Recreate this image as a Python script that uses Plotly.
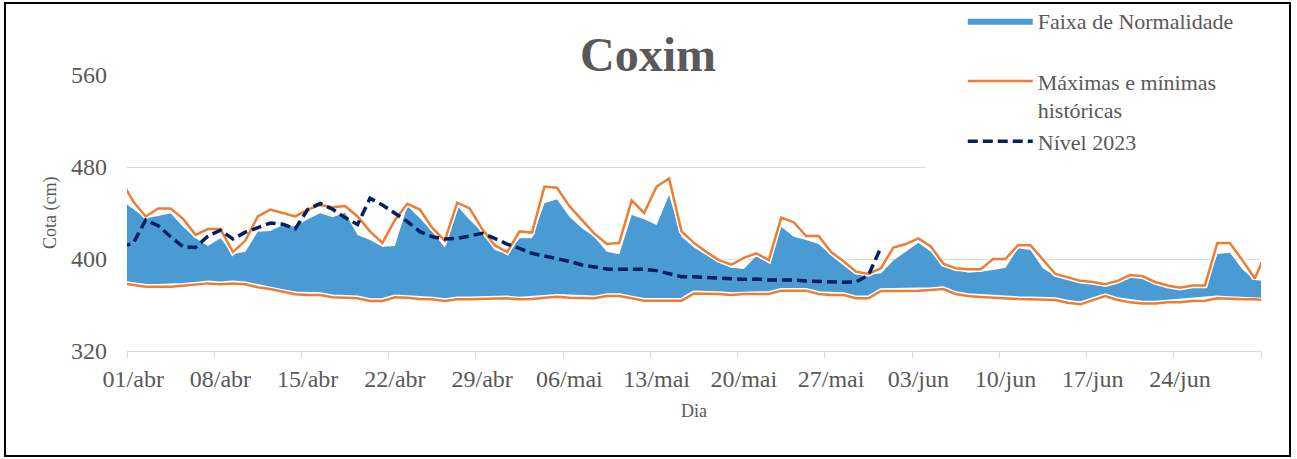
import plotly.graph_objects as go
import pandas as pd

# Days 31/mar .. 01/jul 2023 (first and last fall just outside the visible range)
dias = pd.date_range("2023-03-31", "2023-07-01", freq="D")

max_hist = [469, 450, 437, 444, 444, 435, 421, 426, 426, 406, 416, 437, 443, 440, 437, 443, 447, 445, 446, 437,
            424, 414, 434, 448, 443, 427, 416, 449, 444, 426, 412, 406, 424, 423, 463, 462, 446, 434, 422, 413,
            414, 451, 440, 463, 470, 424, 414, 406, 399, 395, 401, 405, 399, 436, 432, 420, 420, 406, 398, 389,
            387, 392, 410, 413, 418, 411, 396, 392, 391, 391, 400, 400, 412, 412, 399, 387, 384, 381, 380, 378,
            381, 386, 385, 380, 377, 375, 377, 377, 414, 414, 399, 383, 408]

min_hist = [379, 377.5, 375.9, 375.9, 375.9, 376.8, 377.7, 378.8, 378, 378.8, 378, 375.4, 373.9, 371.3, 369.3,
            368.7, 368.7, 366.7, 366.4, 365.8, 363.5, 363.5, 366.7, 366.4, 365.2, 364.9, 363.5, 364.9, 364.9,
            365.2, 365.8, 365.8, 364.9, 365.2, 366.4, 367.2, 366.4, 365.8, 365.8, 367.8, 367.8, 365.8, 363.8,
            363.8, 363.8, 363.8, 370.1, 370.1, 369.6, 368.7, 369.6, 369.6, 369.6, 372.5, 372.5, 372.5, 369.6,
            368.7, 368.7, 365.8, 365.8, 372.2, 372.2, 372.2, 372.5, 373, 373.9, 369.6, 367.8, 367, 366.4, 365.2,
            365.2, 364.9, 364.3, 364.3, 362, 360.6, 364.3, 367.8, 364.3, 362.3, 361.4, 361.4, 362.3, 362.3,
            363.5, 363.8, 365.8, 365.2, 364.9, 364.9, 363.7]

faixa_sup = [451.5, 443.5, 435.4, 437.4, 439.7, 428, 418, 411.3, 418, 404.3, 406.4, 423.8, 424.3, 429.6, 428,
             434.5, 439.7, 436.2, 440.3, 420.9, 416.5, 410.7, 411.3, 446, 435.4, 423.8, 410.1, 446, 433.9, 423.8,
             407.8, 404.3, 418, 418, 448.4, 451.9, 436.8, 426.7, 419.4, 406.4, 404.1, 438.3, 434.5, 429.6, 455.7,
             419.4, 410.1, 403.5, 397.1, 392.5, 391.3, 402.6, 396.8, 428.1, 419.4, 416.5, 413, 403.5, 396.2, 389,
             387, 387.5, 398.6, 406.4, 414.2, 406.4, 393.3, 391, 388.1, 389, 390.4, 392.5, 409.3, 407.8, 391.9,
             385.2, 382.3, 379.7, 378.3, 377.4, 380.3, 384.1, 383.2, 378.8, 376.5, 374.5, 375.4, 375.9, 404.3,
             405.5, 391, 381.7, 380.7]

faixa_inf = [380.5, 379, 377.3, 377.2, 377.2, 378, 379, 380, 379.3, 380, 379.2, 376.8, 375.2, 372.6, 370.6, 370,
             370, 368, 367.8, 367, 365, 365, 368, 367.7, 366.5, 366.2, 364.8, 366.2, 366.2, 366.5, 367, 367, 366.2,
             366.5, 367.7, 368.5, 367.7, 367, 367, 369, 369, 367, 365, 365, 365, 365.2, 371.3, 371.4, 370.8, 370,
             370.8, 370.8, 370.8, 373.7, 373.7, 373.7, 370.8, 370, 370, 367.5, 367.5, 373.4, 373.4, 373.4, 373.7,
             374.2, 375, 370.8, 369, 368.2, 367.6, 366.5, 366.5, 366.2, 365.5, 365.5, 364, 363, 365.5, 368.5,
             365.5, 363.6, 362.8, 362.8, 363.6, 363.6, 364.8, 365, 367, 366.5, 366.2, 366.2, 365]

nivel_2023 = [410.8, 413.6, 433.9, 429, 419.4, 410.7, 410.1, 420, 425, 417.4, 423.3, 427.5, 431.3, 430.3, 426.2,
              443, 448.4, 443.3, 436, 430, 452.8, 447, 440, 432.5, 423.8, 419.4, 417.4, 418, 420, 422.3, 418, 413,
              409.3, 404.9, 402.6, 400.6, 398, 394.8, 393.3, 391.3, 391, 391, 391, 389.9, 387.5, 384.6, 384.6,
              384.1, 382.9, 382.6, 382.3, 382.6, 381.7, 381.7, 381.7, 380.9, 380.3, 379.7, 379.7, 380, 386, 410]

tick_datas = pd.date_range("2023-04-01", periods=13, freq="7D")
tick_rotulos = ["01/abr", "08/abr", "15/abr", "22/abr", "29/abr", "06/mai", "13/mai",
                "20/mai", "27/mai", "03/jun", "10/jun", "17/jun", "24/jun"]
y_ticks = [320, 400, 480, 560]

FONT = "Liberation Serif, Times New Roman, serif"
GRAY = "#595959"
BLUE = "#4a9bd4"
ORANGE = "#ed7d31"
NAVY = "#002060"

fig = go.Figure()
fig.add_trace(go.Scatter(x=dias, y=faixa_inf, mode="lines", line=dict(width=0, color=BLUE),
                         showlegend=False, hoverinfo="skip"))
fig.add_trace(go.Scatter(x=dias, y=faixa_sup, mode="lines", line=dict(width=0, color=BLUE),
                         fill="tonexty", fillcolor=BLUE, name="Faixa de Normalidade<br> "))
for serie in (max_hist, min_hist):
    fig.add_trace(go.Scatter(x=dias, y=serie, mode="lines", line=dict(width=5.5, color="white"),
                             showlegend=False, hoverinfo="skip"))
fig.add_trace(go.Scatter(x=dias, y=max_hist, mode="lines", line=dict(width=2.5, color=ORANGE),
                         name="Máximas e mínimas<br>históricas", legendgroup="mm"))
fig.add_trace(go.Scatter(x=dias, y=min_hist, mode="lines", line=dict(width=2.5, color=ORANGE),
                         showlegend=False, legendgroup="mm"))
fig.add_trace(go.Scatter(x=dias[:len(nivel_2023)], y=nivel_2023, mode="lines",
                         line=dict(width=3.5, color=NAVY, dash="10px,5px"), name="Nível 2023<br> "))

fig.update_layout(
    width=1297, height=459, autosize=False,
    margin=dict(l=127, r=36, t=75, b=108, autoexpand=False),
    paper_bgcolor="white", plot_bgcolor="white",
    font=dict(family=FONT, color=GRAY, size=24),
    showlegend=True,
    legend=dict(x=0.737, y=1.2717, xanchor="left", yanchor="top", bgcolor="rgba(0,0,0,0)",
                font=dict(family=FONT, size=22, color=GRAY), traceorder="normal",
                valign="top", itemwidth=65, tracegroupgap=0),
    xaxis=dict(range=["2023-03-31 12:00", "2023-06-30 12:00"], tickmode="array",
               tickvals=tick_datas, ticktext=tick_rotulos, ticks="", showgrid=False,
               showline=True, linecolor="#d9d9d9", linewidth=1,
               tickfont=dict(family=FONT, size=24, color=GRAY), ticklabelstandoff=6,
               minor=dict(tickmode="linear", tick0="2023-03-31 12:00", dtick=7 * 86400000,
                          ticks="outside", ticklen=6, tickcolor="#d9d9d9", tickwidth=1, showgrid=False),
               zeroline=False),
    yaxis=dict(range=[320, 560], tickmode="array", tickvals=y_ticks, showgrid=True,
               gridcolor="#d9d9d9", gridwidth=1, showline=False, zeroline=False, ticks="",
               tickfont=dict(family=FONT, size=24, color=GRAY), ticklabelstandoff=19),
    annotations=[
        dict(text="<b>Coxim</b>", xref="paper", yref="paper", x=0.4594, y=1.0725,
             xanchor="center", yanchor="middle", showarrow=False, bgcolor="white", borderpad=6,
             font=dict(family=FONT, size=48, color=GRAY)),
        dict(text="Cota (cm)", xref="paper", yref="paper", x=-0.0679, y=0.5, textangle=-90,
             xanchor="center", yanchor="middle", showarrow=False,
             font=dict(family=FONT, size=18, color=GRAY)),
        dict(text="Dia", xref="paper", yref="paper", x=0.5, y=-0.2174,
             xanchor="center", yanchor="middle", showarrow=False,
             font=dict(family=FONT, size=18, color=GRAY)),
    ],
    shapes=[
        # white legend backdrop hiding the gridlines behind the legend area
        dict(type="rect", xref="paper", yref="paper", x0=0.7037, x1=1.0, y0=0.6377, y1=1.2536,
             line=dict(width=0), fillcolor="white", layer="above"),
        dict(type="rect", xref="paper", yref="paper", x0=-0.1076, x1=1.0256, y0=-0.3804, y1=1.2609,
             line=dict(color="black", width=2), fillcolor="rgba(0,0,0,0)", layer="above"),
    ],
)

fig.write_html("out.html", config={"displayModeBar": False},
               post_script="document.body.style.margin='0';document.body.style.overflow='hidden';")
